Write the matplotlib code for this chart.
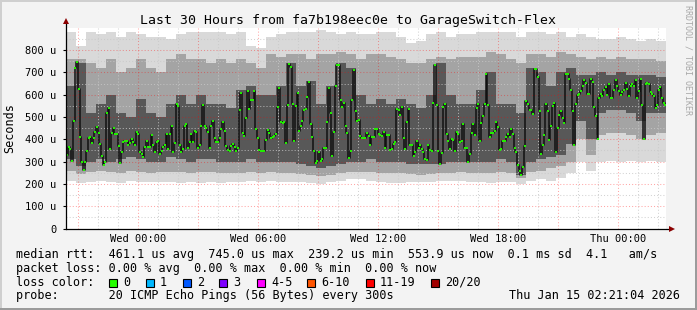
import numpy as np
import matplotlib
matplotlib.use("Agg")
import matplotlib.pyplot as plt
from matplotlib.patches import Rectangle

# median rtt in microseconds, one value per 5 min step
median_us = [
    331, 367, 357, 304, 484, 721, 745, 627, 412, 297, 264, 300, 349, 404, 409, 382,
    407, 434, 457, 427, 381, 324, 287, 300, 519, 542, 357, 430, 451, 425, 424, 370,
    296, 342, 388, 394, 394, 376, 385, 401, 388, 376, 434, 425, 342, 334, 322, 367,
    394, 367, 364, 421, 376, 342, 390, 391, 334, 349,
    364, 376, 424, 357, 424, 461, 345, 384, 558, 551, 375, 342, 357, 461, 469, 361,
    388, 424, 388, 439, 434, 361, 375, 461, 555, 460, 452, 434, 361, 461, 482, 404,
    390, 390, 404, 445, 478, 439, 372, 352, 349, 372, 379, 367, 348, 361, 531, 609,
    430, 413, 496, 616, 536, 578, 576, 616, 446, 406, 354, 349, 349,
    349, 396, 442, 430, 407, 412, 413, 424, 546, 631, 478, 473, 478, 385, 555, 737,
    725, 558, 394, 549, 607, 439, 461, 484, 531, 536, 591, 657, 469, 412, 349, 296,
    304, 345, 304, 312, 361, 361, 478, 628, 519, 327, 434, 639, 734, 734, 576, 546,
    563, 461, 430, 316, 349, 576, 712, 528, 484, 488, 415, 407, 406,
    406, 430, 416, 376, 409, 412, 446, 446, 424, 419, 416, 433, 361, 418, 419, 352,
    358, 379, 390, 536, 531, 510, 546, 406, 357, 478, 534, 376, 376, 327, 345, 391,
    361, 376, 357, 345, 312, 307, 376, 352, 349, 564, 734, 555, 346, 290, 340, 546,
    558, 424, 394, 357, 401, 397, 349, 434, 424, 390, 394, 469, 361,
    361, 297, 334, 430, 469, 421, 540, 558, 391, 475, 506, 558, 693, 554, 412, 430,
    430, 436, 478, 457, 352, 357, 394, 391, 412, 424, 412, 446, 424, 361, 345, 287,
    260, 242, 278, 370, 570, 558, 531, 531, 513, 716, 716, 681, 528, 334, 376, 421,
    558, 528, 397, 461, 549, 564, 345, 451, 510, 527, 496, 472, 693,
    693, 670, 622, 528, 376, 558, 597, 603, 618, 640, 666, 651, 603, 603, 670, 658,
    546, 506, 401, 585, 603, 594, 621, 636, 600, 648, 585, 585, 621, 666, 639, 615,
    597, 610, 621, 651, 624, 594, 637, 648, 639, 666, 585, 618, 670, 555, 401, 648,
    651, 648, 610, 603, 596, 540, 555, 621, 636, 585, 564, 555,
]

# smoke envelope, one value per 30 min (microseconds)
smoke_hi = [880, 820, 880, 870, 880, 860, 880, 870, 860, 860,
            850, 870, 880, 880, 880, 880, 870, 880, 820, 810,
            860, 870, 880, 880, 880, 890, 880, 870, 880, 870,
            870, 880, 880, 860, 830, 840, 870, 880, 860, 870,
            870, 880, 880, 880, 880, 860, 880, 880, 870, 880,
            860, 870, 860, 850, 850, 860, 850, 840, 850, 840]
smoke_p90 = [760, 760, 740, 720, 760, 700, 720, 760, 720, 700,
             760, 780, 760, 760, 740, 760, 740, 760, 740, 720,
             780, 770, 780, 780, 760, 780, 780, 790, 780, 760,
             780, 780, 770, 760, 740, 740, 760, 770, 760, 770,
             770, 770, 790, 780, 760, 740, 780, 780, 770, 790,
             780, 770, 760, 770, 760, 770, 760, 760, 760, 750]
smoke_p75 = [640, 740, 520, 560, 600, 520, 500, 580, 520, 500,
             560, 600, 560, 600, 560, 560, 540, 620, 640, 600,
             600, 640, 740, 640, 660, 560, 640, 740, 720, 600,
             560, 580, 560, 580, 560, 540, 600, 740, 600, 560,
             560, 620, 700, 560, 560, 520, 720, 700, 640, 700,
             720, 690, 690, 700, 690, 700, 690, 690, 690, 680]
smoke_p25 = [310, 280, 300, 310, 300, 310, 320, 310, 300, 300,
             320, 310, 300, 310, 310, 300, 300, 300, 310, 300,
             300, 300, 300, 290, 280, 270, 280, 290, 300, 300,
             310, 300, 300, 300, 290, 290, 290, 290, 300, 300,
             300, 300, 300, 310, 300, 240, 300, 310, 320, 330,
             380, 480, 400, 520, 530, 530, 520, 480, 520, 520]
smoke_p10 = [260, 245, 255, 260, 255, 250, 260, 255, 250, 255,
             255, 255, 250, 255, 255, 250, 250, 250, 255, 250,
             255, 250, 250, 245, 240, 235, 240, 250, 255, 255,
             255, 250, 250, 250, 245, 240, 245, 250, 250, 255,
             250, 250, 250, 255, 250, 225, 255, 260, 270, 280,
             300, 400, 330, 420, 430, 430, 420, 400, 420, 430]
smoke_lo = [215, 205, 210, 215, 210, 205, 215, 210, 210, 210,
            210, 205, 210, 205, 210, 205, 210, 210, 215, 210,
            215, 210, 210, 210, 205, 200, 210, 215, 220, 220,
            215, 210, 205, 205, 210, 210, 210, 215, 215, 215,
            210, 210, 205, 210, 210, 200, 215, 220, 215, 225,
            250, 300, 260, 300, 305, 300, 305, 300, 305, 300]

tick_hours = [0, 6, 12, 18, 24]
tick_labels = ["Wed 00:00", "Wed 06:00", "Wed 12:00", "Wed 18:00", "Thu 00:00"]

loss_labels = ["0", "1", "2", "3", "4-5", "6-10", "11-19", "20/20"]
loss_colors = ["#26ff00", "#00b8ff", "#0059ff", "#7e00ff", "#ff00ff",
               "#ff5500", "#ff0000", "#a10000"]

W, H = 697, 310
T0, T1 = -3.6, 26.4
MONO = "DejaVu Sans Mono"


def px(x, y):
    return x / W, 1 - y / H


fig = plt.figure(figsize=(W / 100, H / 100), dpi=100)
fig.patch.set_facecolor("#f3f3f3")

ax = fig.add_axes([66.3 / W, (H - 228.6) / H, 600 / W, 200.9 / H])
ax.set_facecolor("white")
ax.set_xlim(T0, T1)
ax.set_ylim(0, 900)

# smoke
edges = np.linspace(T0, T1, len(smoke_hi) + 1)


def band(lo, hi, color):
    ax.fill_between(edges, list(lo) + [lo[-1]], list(hi) + [hi[-1]],
                    step="post", color=color, lw=0, zorder=1)


band(smoke_lo, smoke_hi, "#d9d9d9")
band(smoke_p10, smoke_p90, "#a4a4a4")
band(smoke_p25, smoke_p75, "#585858")

# grid, drawn over the smoke like rrdtool does
for h in range(-3, 27):
    major = h % 3 == 0
    ax.axvline(h, color="#ff0000" if major else "#c8c8c8",
               alpha=0.35 if major else 0.8, lw=0.75, ls=(0, (1, 2)), zorder=2)
for v in range(50, 900, 50):
    major = v % 100 == 0
    ax.axhline(v, color="#ff0000" if major else "#c8c8c8",
               alpha=0.35 if major else 0.8, lw=0.75, ls=(0, (1, 2)), zorder=2)

# median
step = (T1 - T0) / len(median_us)
t_med = T0 + step * (np.arange(len(median_us)) + 0.5)
ax.step(t_med, median_us, where="mid", color="#111111", lw=1.1, zorder=3)
ax.plot(t_med, median_us, ls="none", marker="s", ms=1.8, mew=0,
        color="#22ee00", zorder=4)

# axes lines and arrows
for s in ax.spines.values():
    s.set_visible(False)
ax.plot([0, 0], [0, 1.03], color="black", lw=0.9, transform=ax.transAxes,
        clip_on=False, zorder=5)
ax.plot([0, 1.008], [0, 0], color="black", lw=0.9, transform=ax.transAxes,
        clip_on=False, zorder=5)
ax.plot([0], [1.035], marker="^", ms=4.5, color="#8b0000", mew=0,
        transform=ax.transAxes, clip_on=False, zorder=6)
ax.plot([1.01], [0], marker=">", ms=4.5, color="#8b0000", mew=0,
        transform=ax.transAxes, clip_on=False, zorder=6)

ax.set_xticks(tick_hours)
ax.set_xticklabels(tick_labels, fontfamily=MONO, fontsize=7.5)
yt = list(range(0, 900, 100))
ax.set_yticks(yt)
ax.set_yticklabels(["0"] + [f"{v} u" for v in yt[1:]], fontfamily=MONO, fontsize=7.5)
ax.tick_params(axis="x", length=0, pad=4)
ax.tick_params(axis="y", length=2, pad=5)

# texts
fig.text(*px(347.5, 24), "Last 30 Hours from fa7b198eec0e to GarageSwitch-Flex",
         ha="center", va="baseline", fontfamily=MONO, fontsize=9.5)
fig.text(*px(10, 128), "Seconds", rotation=90, ha="center", va="center",
         fontfamily=MONO, fontsize=8.5)
fig.text(*px(688, 60), "RRDTOOL / TOBI OETIKER", rotation=270, ha="center",
         va="center", fontfamily=MONO, fontsize=6, color="#a8a8a8")

fig.text(*px(16, 258.3),
         "median rtt:  461.1 us avg  745.0 us max  239.2 us min  553.9 us now  0.1 ms sd  4.1   am/s",
         va="baseline", fontfamily=MONO, fontsize=8.5)
fig.text(*px(16, 271.7),
         "packet loss: 0.00 % avg  0.00 % max  0.00 % min  0.00 % now",
         va="baseline", fontfamily=MONO, fontsize=8.5)
fig.text(*px(16, 285.7), "loss color:", va="baseline", fontfamily=MONO, fontsize=8.5)
box_x = [109, 146, 183, 219, 257, 307, 366, 431]
for bx, lab, col in zip(box_x, loss_labels, loss_colors):
    fig.patches.append(Rectangle(px(bx, 286.8), 8 / W, 8 / H, facecolor=col,
                                 edgecolor="black", lw=0.8,
                                 transform=fig.transFigure, figure=fig))
    fig.text(*px(bx + 14, 285.7), lab, va="baseline", fontfamily=MONO, fontsize=8.5)
fig.text(*px(16, 299.3), "probe:       20 ICMP Echo Pings (56 Bytes) every 300s",
         va="baseline", fontfamily=MONO, fontsize=8.5)
fig.text(*px(680, 299.3), "Thu Jan 15 02:21:04 2026", ha="right", va="baseline",
         fontfamily=MONO, fontsize=8.5)

# 3d border of the rrdtool canvas
for x, y, w, h, c in [(0, 0, W, 2, "#cfcfcf"), (0, 0, 2, H, "#cfcfcf"),
                      (W - 2, 0, 2, H, "#9b9b9b"), (0, H - 2, W, 2, "#9b9b9b")]:
    fig.patches.append(Rectangle(px(x, y + h), w / W, h / H, facecolor=c, lw=0,
                                 transform=fig.transFigure, figure=fig))

fig.savefig("out.png", dpi=100, facecolor=fig.get_facecolor())
